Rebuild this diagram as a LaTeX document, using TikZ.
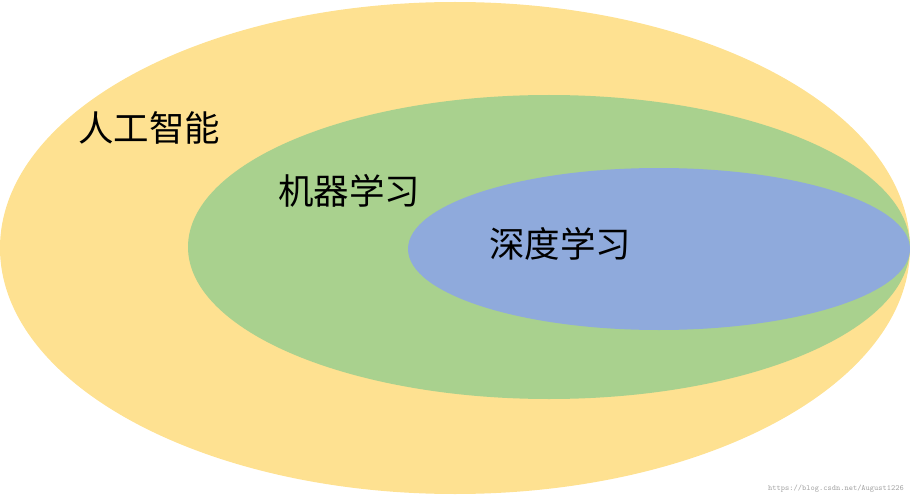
\documentclass[tikz,border=0pt]{standalone}
\usepackage{fontspec}
\newfontfamily\cjk{Noto Sans CJK SC}
\definecolor{aiyellow}{HTML}{FEE191}
\definecolor{mlgreen}{HTML}{A9D18E}
\definecolor{dlblue}{HTML}{8FAADC}
\begin{document}
\begin{tikzpicture}[x=1pt,y=1pt,yscale=-1,xscale=1]
\tikzset{label/.style={inner sep=0pt,font=\cjk\fontsize{35.5}{36}\selectfont}}
\useasboundingbox (0,0) rectangle (910,500);

%Ellipse [id:ai]
\fill [aiyellow] (455,248) ellipse [x radius=455,y radius=246];
%Ellipse [id:ml]
\fill [mlgreen] (549,247) ellipse [x radius=361,y radius=152];
%Ellipse [id:dl]
\fill [dlblue] (659,249) ellipse [x radius=251,y radius=81];

% Text Node
\node [label] (ai) at (149,128) {人工智能};
% Text Node
\node [label] (ml) at (349,191) {机器学习};
% Text Node
\node [label] (dl) at (560,244) {深度学习};
% Text Node
\node [inner sep=0pt,text=gray!70,font=\ttfamily\fontsize{8}{8}\selectfont] (url) at (836,489) {https://blog.csdn.net/August1226};

\end{tikzpicture}
\end{document}
